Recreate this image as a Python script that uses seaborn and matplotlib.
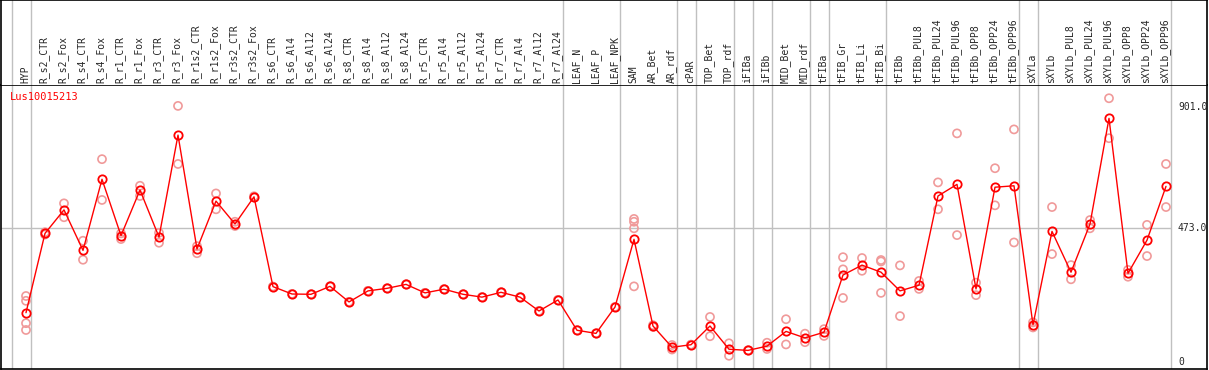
import numpy as np
import pandas as pd
import matplotlib.pyplot as plt
import seaborn as sns

# sample columns, left to right
samples = ["HYP", "R_s2_CTR", "R_s2_Fox", "R_s4_CTR", "R_s4_Fox", "R_r1_CTR", "R_r1_Fox",
           "R_r3_CTR", "R_r3_Fox", "R_r1s2_CTR", "R_r1s2_Fox", "R_r3s2_CTR", "R_r3s2_Fox",
           "R_s6_CTR", "R_s6_Al4", "R_s6_Al12", "R_s6_Al24", "R_s8_CTR", "R_s8_Al4", "R_s8_Al12",
           "R_s8_Al24", "R_r5_CTR", "R_r5_Al4", "R_r5_Al12", "R_r5_Al24", "R_r7_CTR", "R_r7_Al4",
           "R_r7_Al12", "R_r7_Al24", "LEAF_N", "LEAF_P", "LEAF_NPK", "SAM", "AR_Bet", "AR_rdf",
           "cPAR", "TOP_Bet", "TOP_rdf", "iFIBa", "iFIBb", "MID_Bet", "MID_rdf", "tFIBa",
           "tFIB_Gr", "tFIB_Li", "tFIB_Bi", "tFIBb", "tFIBb_PUL8", "tFIBb_PUL24", "tFIBb_PUL96",
           "tFIBb_OPP8", "tFIBb_OPP24", "tFIBb_OPP96", "sXYLa", "sXYLb", "sXYLb_PUL8",
           "sXYLb_PUL24", "sXYLb_PUL96", "sXYLb_OPP8", "sXYLb_OPP24", "sXYLb_OPP96"]

# mean expression per sample
means = [174, 454, 537, 394, 645, 446, 607, 441, 801, 399, 568, 487, 583,
         266, 240, 239, 267, 212, 251, 260, 274, 244, 257, 239, 229, 246, 229, 180, 219,
         112, 101, 194, 433, 127, 52, 61, 127, 45, 41, 56, 108, 85, 105,
         307, 342, 317, 251, 271, 586, 627, 258, 617, 622, 131, 461, 317, 487, 860, 313, 430, 620]

# individual replicates per sample
reps = [[233, 216, 137, 113], [450, 458], [560, 511], [428, 361], [716, 572], [454, 434],
        [622, 586], [456, 421], [904, 699], [409, 384], [595, 539], [495, 480], [585, 581],
        [266, 266], [240, 240], [239, 239], [267, 267], [212, 212], [251, 251], [260, 260],
        [274, 274], [244, 244], [257, 257], [239, 239], [229, 229], [246, 246], [229, 229],
        [180, 180], [219, 219], [112, 112], [101, 101], [194, 194], [505, 495, 472, 267],
        [130, 124], [60, 44], [61, 61], [159, 91], [66, 22], [41, 41], [68, 46], [151, 62],
        [100, 70], [116, 92], [370, 327, 226], [367, 322], [360, 355, 244], [341, 162],
        [286, 258], [634, 539], [807, 448], [280, 236], [684, 553], [821, 422], [140, 122],
        [547, 381], [342, 292], [501, 472], [931, 790], [325, 301], [484, 374], [699, 547]]

# group separators are drawn after these columns
sep_after = [-1, 0, 28, 31, 34, 35, 37, 38, 39, 41, 42, 45, 52, 53, 60]
ytick_vals = [0, 473.0, 901.0]
ytick_text = ["0", "473.0", "901.0"]
gene = "Lus10015213"

pos = np.arange(len(samples))
df_mean = pd.DataFrame({"pos": pos, "value": means})
df_rep = pd.DataFrame([(i, v) for i, r in enumerate(reps) for v in r], columns=["pos", "value"])

sns.set_style("white")
plt.rcParams['font.family'] = ['DejaVu Sans Mono']
plt.rcParams['font.size'] = 7

W, H = 1209, 370
fig = plt.figure(figsize=(W / 100, H / 100), dpi=100)
ax = fig.add_axes([1 / W, 1 / H, 1206 / W, 284 / H])
hx = fig.add_axes([1 / W, 285 / H, 1206 / W, 85 / H])

# pixel layout of the original: column i sits at x = 26 + 19*i, value 0 at y=362
xmin, xmax = (1 - 26) / 19, (1207 - 26) / 19
ymin, ymax = (362 - 369) / 0.2833, (362 - 85) / 0.2833
for a in (ax, hx):
    a.set_xlim(xmin, xmax)
    a.set_xticks([])
    a.set_yticks([])
    for s in a.spines.values():
        s.set_color("black")
        s.set_linewidth(1.2)
    for i in sep_after:
        a.axvline(i + 0.25, color="#c0c0c0", lw=1, zorder=0)
ax.set_ylim(ymin, ymax)
hx.set_ylim(0, 1)
hx.spines["bottom"].set_visible(False)

ax.hlines(473, xmin, sep_after[-1] + 0.25, color="#c0c0c0", lw=1, zorder=0)

sns.scatterplot(data=df_rep, x="pos", y="value", ax=ax, marker="o", s=34,
                facecolor="none", edgecolor="#f09a9a", linewidth=1.2, zorder=2)
sns.lineplot(data=df_mean, x="pos", y="value", ax=ax, color="red", lw=1,
             marker="o", markersize=6, markerfacecolor="none",
             markeredgecolor="red", markeredgewidth=1.3, zorder=3)
ax.set_xlabel("")
ax.set_ylabel("")

for i, name in enumerate(samples):
    hx.text(i - 0.05, 2 / 85, name, rotation=90, ha="center", va="bottom", fontsize=7)

for v, t in zip(ytick_vals, ytick_text):
    ax.text((1178 - 26) / 19, v, t, ha="left", va="center", fontsize=7)

ax.text(9 / 1206, 0.958, gene, color="red", transform=ax.transAxes,
        ha="left", va="center", fontsize=7.5)

fig.savefig("out.png", dpi=100)
